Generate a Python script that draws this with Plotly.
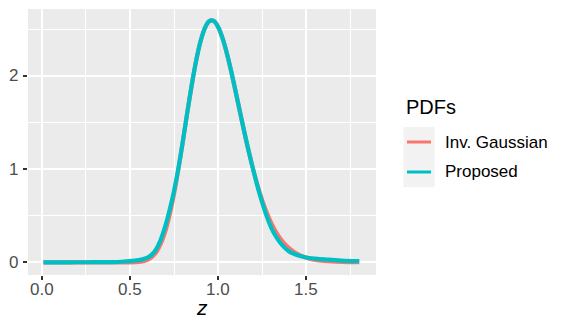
import plotly.graph_objects as go

# values
z = [0.01, 0.1, 0.2, 0.3, 0.4, 0.45, 0.5, 0.55, 0.575, 0.6, 0.625, 0.65, 0.675, 0.7, 0.725,
     0.75, 0.775, 0.8, 0.825, 0.85, 0.875, 0.9, 0.925, 0.95, 0.975, 1.0, 1.025, 1.05, 1.075,
     1.1, 1.125, 1.15, 1.175, 1.2, 1.225, 1.25, 1.275, 1.3, 1.325, 1.35, 1.375, 1.4, 1.45,
     1.5, 1.55, 1.6, 1.7, 1.8]
inv_gaussian = [0.0, 0.0, 0.0, 0.0, 0.0, 0.0, 0.0003, 0.004, 0.011, 0.026, 0.057, 0.111, 0.199,
                0.329, 0.508, 0.733, 1.002, 1.297, 1.603, 1.897, 2.157, 2.367, 2.511, 2.585,
                2.587, 2.523, 2.402, 2.236, 2.039, 1.823, 1.602, 1.383, 1.176, 0.985, 0.814,
                0.664, 0.535, 0.426, 0.336, 0.262, 0.202, 0.155, 0.088, 0.049, 0.026, 0.014,
                0.004, 0.001]
proposed = [0.0, 0.0, 0.0005, 0.001, 0.003, 0.006, 0.012, 0.024, 0.034, 0.05, 0.085, 0.145,
            0.245, 0.385, 0.56, 0.765, 1.01, 1.297, 1.603, 1.897, 2.157, 2.367, 2.511, 2.585,
            2.587, 2.523, 2.402, 2.236, 2.039, 1.823, 1.602, 1.383, 1.176, 0.985, 0.80,
            0.64, 0.495, 0.375, 0.285, 0.215, 0.16, 0.12, 0.075, 0.052, 0.04, 0.031, 0.019,
            0.012]

series_names = ["Inv. Gaussian", "Proposed"]
series_colors = ["#F8766D", "#00BFC4"]
x_ticks = [0.0, 0.5, 1.0, 1.5]
y_ticks = [0, 1, 2]

FONT = "Arial, Liberation Sans, Helvetica, sans-serif"
W, H = 565, 328
L, R, T, B = 28, 189, 9, 53
PW, PH = W - L - R, H - T - B


def px(x):
    return (x - L) / PW


def py(y):
    return (H - B - y) / PH


fig = go.Figure()
for name, ys, color in zip(series_names, [inv_gaussian, proposed], series_colors):
    fig.add_trace(
        go.Scatter(
            x=z,
            y=ys,
            mode="lines",
            line=dict(color=color, width=4.2, shape="spline", smoothing=0.8),
            name=name,
            showlegend=False,
            hoverinfo="skip",
        )
    )

# ggplot-like legend drawn by hand
shapes = [
    dict(type="rect", xref="paper", yref="paper", x0=px(403.5), x1=px(434.5),
         y0=py(187), y1=py(127), fillcolor="#F2F2F2", line=dict(width=0), layer="below"),
]
annotations = [
    dict(text="PDFs", x=px(404), y=py(107), xref="paper", yref="paper", xanchor="left",
         yanchor="middle", showarrow=False, font=dict(family=FONT, size=20, color="black")),
    dict(text="<i>z</i>", x=0.5, y=py(307), xref="paper", yref="paper", xanchor="center",
         yanchor="middle", showarrow=False, font=dict(family=FONT, size=21, color="black")),
]
for i, (name, color) in enumerate(zip(series_names, series_colors)):
    yy = 142 + 30 * i
    shapes.append(dict(type="line", xref="paper", yref="paper", x0=px(407), x1=px(431),
                       y0=py(yy), y1=py(yy), line=dict(color=color, width=3)))
    annotations.append(dict(text=name, x=px(443), y=py(yy), xref="paper", yref="paper",
                            xanchor="left", yanchor="middle", showarrow=False,
                            font=dict(family=FONT, size=17, color="black")))

# tick labels placed as annotations so their offset from the ticks matches ggplot
tick_font = dict(family=FONT, size=17, color="#4D4D4D")
for v in x_ticks:
    annotations.append(dict(text=f"{v:.1f}", x=v, y=py(289.5), xref="x", yref="paper",
                            xanchor="center", yanchor="middle", showarrow=False, font=tick_font))
for v in y_ticks:
    annotations.append(dict(text=str(v), x=px(19.5), y=v, xref="paper", yref="y",
                            xanchor="right", yanchor="middle", showarrow=False, font=tick_font))

fig.update_layout(
    width=W,
    height=H,
    margin=dict(l=L, r=R, t=T, b=B),
    paper_bgcolor="white",
    plot_bgcolor="#EBEBEB",
    showlegend=False,
    shapes=shapes,
    annotations=annotations,
    font=dict(family=FONT),
)
fig.update_xaxes(
    range=[-0.0777, 1.8949],
    tickvals=x_ticks,
    showticklabels=False,
    ticks="outside", ticklen=4, tickwidth=1.5, tickcolor="#333333",
    showgrid=True, gridcolor="white", gridwidth=1.6,
    minor=dict(tickvals=[0.25, 0.75, 1.25, 1.75], showgrid=True, gridcolor="white", gridwidth=0.8),
    zeroline=False, showline=False, automargin=False,
)
fig.update_yaxes(
    range=[-0.136, 2.715],
    tickvals=y_ticks,
    showticklabels=False,
    ticks="outside", ticklen=4, tickwidth=1.5, tickcolor="#333333",
    showgrid=True, gridcolor="white", gridwidth=1.6,
    minor=dict(tickvals=[0.5, 1.5, 2.5], showgrid=True, gridcolor="white", gridwidth=0.8),
    zeroline=False, showline=False, automargin=False,
)

# the page's default 8px body margin would shift the whole figure
fig.write_html("out.html", config={"displayModeBar": False},
               post_script="document.body.style.margin='0';")
